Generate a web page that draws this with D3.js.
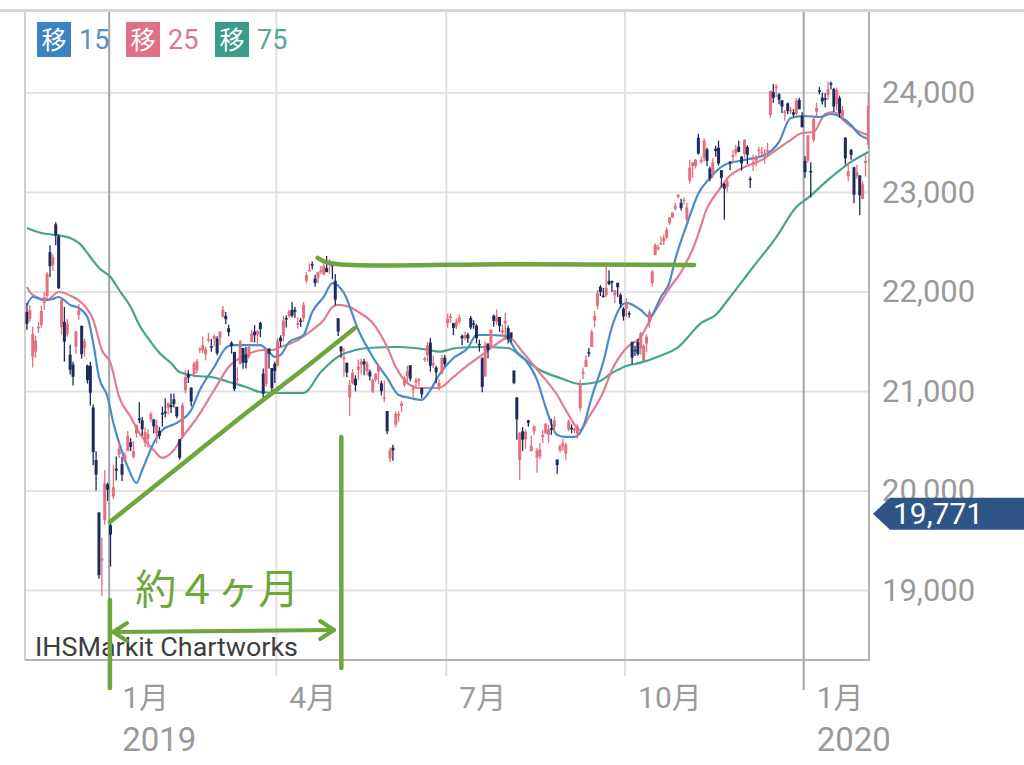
<!DOCTYPE html>
<html><head><meta charset="utf-8">
<script src="https://cdn.jsdelivr.net/npm/d3@7"></script>
<style>html,body{margin:0;padding:0;background:#fff;}svg{display:block;}</style>
</head><body>
<svg id="chart" width="1024" height="765"></svg>
<script>
// ---------- DATA ----------
// trading-day index of first candle (0 = 2019-01-04)
const startIndex = -29;
const opens = [
 21800,21730,21350,21400,21650,21670,21890,21960,22400,22270,
 22680,22560,21650,21700,21580,21370,21270,21450,21770,21660,21440,21260,21260,20840,20310,19785,19302,19706,20068,
 19655,19944,20224,20366,20270,20296,20400,20490,20342,20580,20730,20710,20488,20521,20719,20720,20578,20602,20784,
 20797,20831,20867,20922,20846,20520,20554,21012,21175,21039,21176,21214,21417,21414,21374,21526,21456,21528,21531,
 21536,21748,21760,21636,21489,21398,21118,21277,21437,21366,21350,21497,21603,21570,21690,21180,21075,21432,21236,21280,
 21261,21540,21559,21738,21757,21821,21821,21668,21715,21739,22113,22215,22280,22136,22139,22218,22174,22240,22275,22303,
 22113,21736,21453,21324,21289,20941,21082,21130,21217,21270,21303,21204,21200,20998,21116,21200,21082,20930,20804,
 20327,20435,20667,20760,20854,21067,21155,21264,21032,21090,21119,21036,21318,21365,21492,21262,21240,21049,21178,21340,
 21688,21742,21688,21652,21698,21560,21538,21571,21739,21686,21661,21478,21334,21154,21482,21450,21763,21700,21749,21593,21683,21638,
 21593,21211,20940,20311,20600,20520,20710,20400,20600,20335,20349,20541,20578,20564,20629,20640,20316,20406,20450,20375,20617,
 20635,20613,20574,20833,21175,21247,21394,21446,21714,21862,22051,21964,21968,22113,22109,21966,22093,21971,21831,
 21831,21788,21500,21418,21497,21433,21306,21481,21695,22090,22370,22431,22478,22508,22550,22693,22749,22836,22955,22896,22913,
 22730,23118,23264,23266,23550,23309,23345,23432,23242,23200,23441,23450,23225,23086,23055,23310,23363,23392,23460,23360,
 23388,23457,23139,23278,23321,23422,23407,23378,23420,23780,24010,24046,23986,23927,23800,23895,23818,23806,23793,23930,23770,
 23319,23320,23217,23530,23813,24027,23953,23949,23981,24099,24040,23890,23948,23765,23552,23164,23427,23253,23165,
 23172,22936,23296,23480
];
const highs = [
 21890,21870,21650,21560,21700,21860,22000,22200,22470,22380,
 22700,22580,21950,21850,21730,21470,21300,21610,21880,21660,21530,21270,21300,20870,20400,19785,19530,20211,20084,
 19692,20266,20347,20494,20345,20389,20604,20531,20502,20666,20892,20744,20639,20621,20797,20720,20716,20643,20848,
 20929,20891,20981,20981,20846,20520,20887,21213,21213,21039,21301,21327,21444,21553,21451,21590,21528,21578,21556,
 21602,21860,21800,21672,21505,21398,21243,21519,21437,21448,21473,21621,21667,21621,21700,21232,21431,21432,21236,21300,
 21536,21565,21760,21763,21819,21900,21850,21746,21738,21900,22200,22288,22307,22174,22208,22263,22299,22362,22330,22307,
 22180,21737,21456,21438,21289,21116,21226,21164,21321,21330,21330,21304,21221,21127,21175,21260,21110,21111,20804,
 20438,20464,20800,20800,20904,21152,21259,21264,21069,21135,21137,21036,21350,21497,21539,21363,21259,21121,21367,21367,
 21784,21784,21688,21733,21774,21572,21601,21591,21759,21717,21676,21520,21345,21502,21483,21623,21775,21823,21749,21671,21792,21664,
 21593,21211,20943,20592,20642,20619,20715,20558,20655,20435,20486,20612,20681,20666,20725,20750,20316,20467,20526,20484,20719,
 20670,20638,20674,21118,21242,21367,21437,21622,21812,22019,22070,22041,22255,22218,22116,21975,22093,21989,21848,
 21938,21806,21500,21461,21526,21597,21474,21574,21823,22221,22491,22480,22557,22578,22649,22750,22799,22896,22985,22936,22951,
 22898,23328,23303,23336,23591,23363,23545,23450,23261,23347,23470,23520,23225,23096,23147,23313,23425,23480,23520,23366,
 23535,23476,23160,23382,23376,23460,23457,23438,23500,24023,24091,24091,24000,23927,23830,23905,23860,23839,23947,23952,23807,
 23365,23577,23303,23767,23903,24059,24002,23997,24115,24115,24054,24056,23974,23868,23554,23305,23438,23260,23280,
 23172,23112,23375,23995
];
const lows = [
 21620,21700,21240,21340,21590,21640,21820,21930,22150,22210,
 22470,22030,21570,21300,21550,21170,21060,21380,21720,21330,21350,21080,20860,20260,20006,19117,18948,19660,19900,
 19241,19920,20106,20331,20101,20294,20400,20402,20326,20538,20682,20556,20441,20434,20692,20580,20476,20520,20647,
 20741,20766,20783,20838,20732,20315,20525,20980,21086,20853,21141,21181,21385,21384,21313,21495,21399,21453,21364,
 21465,21745,21677,21555,21381,21003,21066,21272,21228,21232,21330,21497,21493,21450,21546,20911,21050,21231,20980,21085,
 21252,21446,21500,21643,21740,21744,21741,21633,21649,21699,22083,22213,22226,22052,22088,22181,22171,22198,22182,22128,
 21868,21557,21338,21147,21142,20751,21070,21001,21112,21171,21164,21160,21110,20983,21094,21077,20961,20891,20570,
 20289,20305,20637,20696,20790,21046,21094,21101,20942,21024,21052,20933,21297,21301,21200,21235,21082,21010,21178,21253,
 21641,21690,21566,21628,21681,21464,21514,21488,21622,21630,21484,21401,20993,21145,21335,21450,21652,21669,21600,21552,21517,21486,
 21493,21074,20514,20110,20403,20423,20647,20400,20566,20184,20320,20483,20578,20487,20564,20596,20173,20388,20404,20312,20601,
 20580,20582,20528,20800,21125,21247,21349,21446,21646,21827,21960,21944,21952,22069,22000,21886,21950,21841,21713,
 21750,21742,21277,21357,21363,21372,21296,21395,21640,22053,22370,22415,22478,22473,22532,22676,22740,22822,22936,22820,22876,
 22705,23090,23148,23242,23382,23286,23312,23263,23112,23142,23359,23270,23051,22726,23009,23226,23303,23370,23405,23220,
 23343,23285,23044,23216,23263,23365,23378,23290,23369,23749,23901,23961,23888,23800,23720,23788,23786,23761,23771,23837,23656,
 23148,23299,22951,23506,23761,23985,23884,23857,23930,24035,23812,23821,23752,23721,23281,23115,23330,22892,23137,
 22775,22936,23161,23437
];
const closes = [
 21680,21820,21580,21510,21650,21810,21950,22180,22260,22350,
 22570,22040,21919,21501,21678,21219,21148,21602,21816,21374,21506,21115,20987,20392,20166,19155,19327,20077,20014,
 19561,20038,20204,20427,20163,20359,20555,20442,20402,20666,20719,20622,20593,20574,20773,20649,20664,20556,20773,
 20788,20883,20844,20874,20751,20333,20864,21144,21139,20900,21281,21302,21431,21464,21425,21528,21449,21556,21385,
 21602,21822,21726,21596,21456,21025,21125,21503,21290,21287,21450,21584,21566,21608,21627,20977,21428,21378,21033,21205,
 21509,21505,21713,21724,21807,21761,21802,21687,21711,21870,22169,22221,22277,22090,22200,22218,22259,22200,22307,22258,
 21923,21602,21402,21344,21191,21067,21188,21062,21250,21301,21272,21283,21151,21117,21182,21260,21003,20942,20601,
 20410,20408,20776,20774,20884,21134,21204,21129,21032,21116,21124,20972,21333,21462,21258,21285,21193,21086,21338,21276,
 21729,21754,21638,21702,21746,21534,21565,21533,21643,21685,21535,21469,21046,21466,21416,21620,21709,21756,21658,21616,21709,21521,
 21540,21087,20720,20585,20516,20593,20685,20455,20655,20405,20418,20563,20677,20618,20628,20710,20261,20456,20479,20460,20704,
 20620,20625,20649,21085,21199,21318,21392,21597,21759,21988,22001,21960,22044,22079,22098,22020,22048,21878,21755,
 21885,21778,21341,21410,21375,21587,21456,21551,21798,22207,22472,22451,22492,22548,22625,22750,22799,22867,22974,22843,22927,
 22850,23251,23303,23330,23391,23331,23520,23319,23141,23303,23416,23292,23148,23038,23113,23292,23373,23437,23409,23293,
 23529,23379,23135,23300,23354,23430,23410,23391,23424,24023,23952,24066,23934,23864,23816,23821,23830,23782,23924,23837,23656,
 23204,23575,23204,23739,23850,24025,23916,23933,24041,24083,23864,24031,23795,23827,23343,23215,23379,22977,23205,
 22971,23084,23319,23873
];

// moving averages: [trading-day index], [value]
const ma15Idx = [-29,-27,-23,-20,-18,-14,-11,-8,-6,-4,-1,1,3,6,9,11,15,18,23,28,31,36,40,42,47,52,55,57,59,62,67,70,74,77,81,86,91,96,100,104,108,111,114,119,124,127,131,137,141,144,148,151,155,158,161,164,167,171,174,179,184,187,191,194,196,200,204,208,213,220,227,232,236,241,246,250,254,257,260,263];
const ma15Val = [21870,21950,21920,21930,21950,21870,21839,21749,21487,21146,20945,20684,20483,20241,20080,20211,20483,20613,20684,20814,21015,21246,21437,21467,21467,21467,21397,21347,21367,21498,21568,21799,21950,22090,21990,21618,21347,21136,20965,20935,20915,21015,21166,21337,21437,21568,21568,21560,21397,21317,21116,20844,20563,20543,20543,20643,20945,21296,21648,21890,21819,21749,21950,22100,22330,22680,22990,23146,23276,23327,23377,23508,23749,23769,23759,23789,23749,23678,23578,23538];
const ma25Idx = [-29,-27,-22,-18,-13,-10,-6,-3,0,3,7,10,15,18,22,25,30,36,41,47,53,56,59,65,70,74,77,79,83,86,91,96,99,103,107,114,119,124,128,132,135,138,143,149,155,159,163,166,171,174,179,184,188,191,194,198,203,207,211,215,220,226,231,236,240,244,248,251,255,260,263];
const ma25Val = [22050,21970,21920,22000,21950,21890,21719,21417,21286,20945,20744,20583,20412,20332,20412,20543,20734,21015,21246,21367,21417,21417,21447,21518,21618,21719,21849,21870,21849,21799,21689,21447,21246,21086,21035,21035,21146,21266,21347,21437,21498,21548,21397,21186,20965,20764,20613,20744,20995,21216,21437,21548,21760,21900,22040,22200,22500,22840,23020,23170,23256,23327,23427,23528,23598,23608,23790,23809,23709,23608,23578];
const ma75Idx = [-29,-24,-19,-14,-11,-7,-4,0,3,7,10,14,17,21,24,30,35,41,47,52,59,67,73,80,83,89,100,110,114,120,128,138,143,149,156,163,169,174,179,184,190,197,205,210,215,223,231,238,242,249,257,263];
const ma75Val = [22643,22593,22573,22543,22493,22352,22241,22151,22020,21849,21669,21498,21387,21286,21196,21156,21146,21096,21045,20995,20985,20985,21196,21367,21400,21437,21447,21420,21400,21437,21447,21437,21337,21216,21136,21075,21096,21186,21256,21290,21350,21447,21689,21769,21950,22251,22550,22854,22945,23126,23307,23407];

const yTicks = [19000, 20000, 21000, 22000, 23000, 24000];
const xTickIdx = [0, 58, 117, 179, 241];
const xTickMonth = ["1月", "4月", "7月", "10月", "1月"];
const xTickYear = ["2019", "", "", "", "2020"];
const lastPrice = 19771;
const legendLabels = ["15", "25", "75"];

// hand-drawn green annotations (data space)
const trendIdx = [-0.2, 10.2, 20.6, 31, 48.4, 65.7, 84.8];
const trendVal = [19689, 19930, 20171, 20412, 20814, 21196, 21638];
const resistIdx = [71.9, 76, 140, 202.5];
const resistVal = [22342, 22291, 22280, 22271];
const markIdx = [-0.2, 80.1];
const markTop = [18905, 20543];
const markBottom = [18020, 18221];
const spanIdx = [0.9, 77.6];
const spanVal = [18583, 18603];
const spanLabel = "約４ヶ月";
const spanLabelPos = [8.6, 18864];

// ---------- CHART ----------
const svg = d3.select("#chart");
const P = {left: 25, right: 869, top: 12, bottom: 660};
const x = d3.scaleLinear().domain([0, 241]).range([110.5, 805]);
const y = d3.scaleLinear().domain([19000, 24000]).range([590.5, 93]);
const FONT = "Roboto, 'Noto Sans CJK JP', sans-serif";
const GREEN = "#6ea63e";

svg.append("rect").attr("width", 1024).attr("height", 765).attr("fill", "#fff");
svg.append("rect").attr("x", 0).attr("y", 9).attr("width", 1024).attr("height", 3).attr("fill", "#d6d6d6");

svg.append("defs").append("clipPath").attr("id", "plotClip")
  .append("rect").attr("x", P.left).attr("y", P.top).attr("width", P.right - P.left).attr("height", P.bottom - P.top);

// gridlines
svg.append("g").selectAll("line").data(yTicks).join("line")
  .attr("x1", P.left).attr("x2", P.right).attr("y1", d => y(d)).attr("y2", d => y(d))
  .attr("stroke", "#e2e2e2").attr("stroke-width", 2);
const vg = svg.append("g");
xTickIdx.forEach((d, i) => {
  const px = x(d) - 1.3;
  const isYear = xTickYear[i] !== "";
  vg.append("line").attr("x1", px).attr("x2", px).attr("y1", P.top).attr("y2", isYear ? 690 : 676)
    .attr("stroke", isYear ? "#a4a4a4" : "#e0e0e0").attr("stroke-width", 2);
});

// frame
svg.append("line").attr("x1", P.left).attr("x2", P.left).attr("y1", P.top).attr("y2", P.bottom).attr("stroke", "#cfcfcf").attr("stroke-width", 2);
svg.append("line").attr("x1", P.left).attr("x2", P.right + 1).attr("y1", P.bottom).attr("y2", P.bottom).attr("stroke", "#b4b4b4").attr("stroke-width", 2);
svg.append("line").attr("x1", P.right).attr("x2", P.right).attr("y1", P.top).attr("y2", P.bottom).attr("stroke", "#b4b4b4").attr("stroke-width", 2);

// right axis
const yAxis = d3.axisRight(y).tickValues(yTicks).tickFormat(d3.format(",")).tickSize(0).tickPadding(13);
const ya = svg.append("g").attr("transform", `translate(${P.right},0)`).call(yAxis);
ya.select(".domain").remove();
ya.selectAll("text").attr("font-size", 31).attr("fill", "#9a9a9a").attr("font-family", FONT);

// bottom labels
const xl = svg.append("g");
xTickIdx.forEach((d, i) => {
  const px = x(d) - 1.3 + 13;
  xl.append("text").attr("x", px).attr("y", 708).text(xTickMonth[i])
    .attr("font-size", 30).attr("fill", "#9a9a9a").attr("font-family", FONT);
  if (xTickYear[i]) xl.append("text").attr("x", px).attr("y", 751).text(xTickYear[i])
    .attr("font-size", 33).attr("fill", "#9a9a9a").attr("font-family", FONT);
});

// plot layer
const plot = svg.append("g").attr("clip-path", "url(#plotClip)");
const line = d3.line().x(d => x(d[0])).y(d => y(d[1])).curve(d3.curveMonotoneX);
const maSets = [
  {idx: ma75Idx, val: ma75Val, color: "#44a48e"},
  {idx: ma25Idx, val: ma25Val, color: "#e07d90"},
  {idx: ma15Idx, val: ma15Val, color: "#4a8cc6"}
];
maSets.forEach(s => {
  plot.append("path").datum(s.idx.map((d, i) => [d, s.val[i]]))
    .attr("d", line).attr("fill", "none").attr("stroke", s.color).attr("stroke-width", 2.2);
});

const UP = "#e3707f", DOWN = "#1c2a5c";
const candles = closes.map((c, i) => ({i: startIndex + i, o: opens[i], h: highs[i], l: lows[i], c}));
const cg = plot.append("g");
cg.selectAll("line").data(candles).join("line")
  .attr("x1", d => x(d.i)).attr("x2", d => x(d.i))
  .attr("y1", d => y(d.h)).attr("y2", d => y(d.l))
  .attr("stroke", d => d.c >= d.o ? UP : DOWN).attr("stroke-width", 1.3);
cg.selectAll("rect").data(candles).join("rect")
  .attr("x", d => x(d.i) - 1.5).attr("width", 3)
  .attr("y", d => y(Math.max(d.o, d.c)))
  .attr("height", d => Math.max(1.5, Math.abs(y(d.o) - y(d.c))))
  .attr("fill", d => d.c >= d.o ? UP : DOWN);

// watermark
svg.append("text").attr("x", 35).attr("y", 656).text("IHSMarkit Chartworks")
  .attr("font-size", 26).attr("fill", "#3d3d3d").attr("font-family", FONT)
  .attr("textLength", 263).attr("lengthAdjust", "spacingAndGlyphs");

// legend
const legColors = [["#3b83c1", "#5a8fbe"], ["#e07185", "#d97a8c"], ["#3a9d8a", "#5aa496"]];
const legX = [37, 126, 215];
legendLabels.forEach((lab, i) => {
  const g = svg.append("g").attr("transform", `translate(${legX[i]},22)`);
  g.append("rect").attr("width", 34).attr("height", 35).attr("fill", legColors[i][0]);
  g.append("text").attr("x", 17).attr("y", 27).attr("text-anchor", "middle").text("移")
    .attr("font-size", 25).attr("fill", "#fff").attr("font-family", "'Noto Sans CJK JP', sans-serif");
  g.append("text").attr("x", 42).attr("y", 27).text(lab)
    .attr("font-size", 27).attr("fill", legColors[i][1]).attr("font-family", FONT);
});

// green annotations
const ag = svg.append("g").attr("fill", "none").attr("stroke", GREEN).attr("stroke-width", 4.5).attr("stroke-linecap", "round").attr("stroke-linejoin", "round");
const curve = d3.line().x(d => x(d[0])).y(d => y(d[1])).curve(d3.curveCatmullRom);
ag.append("path").attr("d", curve(trendIdx.map((d, i) => [d, trendVal[i]])));
ag.append("path").attr("d", curve(resistIdx.map((d, i) => [d, resistVal[i]])));
markIdx.forEach((d, i) => {
  ag.append("line").attr("x1", x(d)).attr("x2", x(d)).attr("y1", y(markTop[i])).attr("y2", y(markBottom[i]));
});
const ax1 = x(spanIdx[0]), ay1 = y(spanVal[0]), ax2 = x(spanIdx[1]), ay2 = y(spanVal[1]);
ag.append("line").attr("x1", ax1).attr("y1", ay1).attr("x2", ax2).attr("y2", ay2).attr("stroke-width", 4);
ag.append("path").attr("d", `M${ax1 + 14},${ay1 - 9} L${ax1},${ay1} L${ax1 + 14},${ay1 + 9}`).attr("stroke-width", 4);
ag.append("path").attr("d", `M${ax2 - 14},${ay2 - 9} L${ax2},${ay2} L${ax2 - 14},${ay2 + 9}`).attr("stroke-width", 4);
svg.append("text").attr("x", x(spanLabelPos[0])).attr("y", y(spanLabelPos[1])).text(spanLabel)
  .attr("font-size", 41).attr("fill", GREEN).attr("font-family", "'Noto Sans CJK JP', sans-serif");

// last price badge
const by = y(lastPrice);
svg.append("polygon")
  .attr("points", `${P.right + 4},${by} ${P.right + 21},${by - 16} 1024,${by - 16} 1024,${by + 16} ${P.right + 21},${by + 16}`)
  .attr("fill", "#2f5587");
svg.append("text").attr("x", 893).attr("y", by).attr("dy", "0.35em").text(d3.format(",")(lastPrice))
  .attr("font-size", 30).attr("fill", "#fff").attr("font-family", FONT);
</script>
</body></html>
